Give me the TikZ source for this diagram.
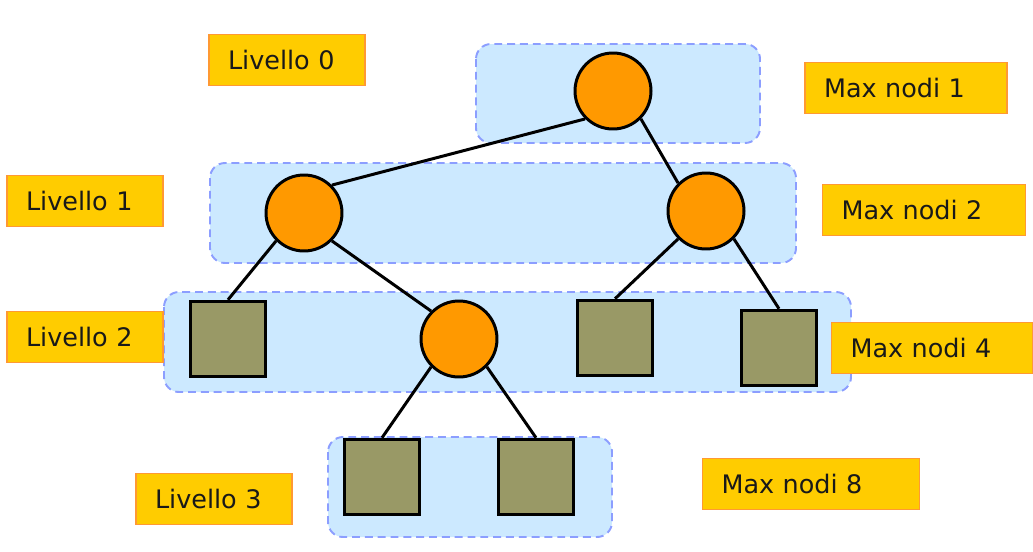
\documentclass[tikz,border=0pt]{standalone}
\usepackage{fontspec}
\setmainfont{DejaVu Sans}

\definecolor{fascia}{HTML}{CCE9FF}
\definecolor{bordofascia}{HTML}{8C9EFF}
\definecolor{arancio}{HTML}{FF9900}
\definecolor{foglia}{HTML}{999966}
\definecolor{etichetta}{HTML}{FFCC00}
\definecolor{bordoetichetta}{HTML}{FF9933}

\tikzset{
  fascia/.style={fill=fascia, draw=bordofascia, line width=1.1pt,
    dash pattern=on 4.5pt off 2.8pt, rounded corners=0.3cm},
  interno/.style={circle, fill=arancio, draw=black, line width=1.7pt,
    minimum size=1.52cm, inner sep=0pt},
  foglia/.style={rectangle, fill=foglia, draw=black, line width=2pt,
    minimum size=1.5cm, inner sep=0pt},
  ramo/.style={line width=1.7pt},
  livello/.style={rectangle, fill=etichetta, draw=bordoetichetta, line width=0.8pt,
    text width=#1, align=left, inner xsep=0.38cm, minimum height=1.02cm,
    font=\fontsize{14.5pt}{17pt}\selectfont, text=black!90},
  livello/.default=2.36cm
}

\begin{document}
\begin{tikzpicture}[x=0.02cm, y=-0.02cm]
        % Cornice
        \useasboundingbox (0,0) rectangle (1033,551);

        % Fasce dei livelli
        \draw[fascia] (476,44) rectangle (760,143);
        \draw[fascia] (210,163) rectangle (796,263);
        \draw[fascia] (164,292) rectangle (851,392);
        \draw[fascia] (328,437) rectangle (612,537);

        % Nodi interni
        \node[interno] (radice) at (613,91) {};
        \node[interno] (sx) at (304,213) {};
        \node[interno] (dx) at (706,211) {};
        \node[interno] (centro) at (459,339) {};

        % Foglie
        \node[foglia] (f1) at (228,339) {};
        \node[foglia] (f2) at (615,338) {};
        \node[foglia] (f3) at (779,348) {};
        \node[foglia] (f4) at (382,477) {};
        \node[foglia] (f5) at (536,477) {};

        % Rami
        \draw[ramo] (radice.south west) -- (sx.north east);
        \draw[ramo] (radice.south east) -- (dx.north west);
        \draw[ramo] (sx.south west) -- (f1.north);
        \draw[ramo] (sx.south east) -- (centro.north west);
        \draw[ramo] (dx.south west) -- (f2.north);
        \draw[ramo] (dx.south east) -- (f3.north);
        \draw[ramo] (centro.south west) -- (f4.north);
        \draw[ramo] (centro.south east) -- (f5.north);

        % Etichette a sinistra
        \node[livello] (liv0) at (287,60) {Livello 0};
        \node[livello] (liv1) at (85,201) {Livello 1};
        \node[livello] (liv2) at (85,337) {Livello 2};
        \node[livello] (liv3) at (214,499) {Livello 3};

        % Etichette a destra
        \node[livello=3.28cm] (max1) at (906,88) {Max nodi 1};
        \node[livello=3.3cm] (max2) at (924,210) {Max nodi 2};
        \node[livello=3.26cm] (max4) at (932,348) {Max nodi 4};
        \node[livello=3.58cm] (max8) at (811,484) {Max nodi 8};
    \end{tikzpicture}
\end{document}
